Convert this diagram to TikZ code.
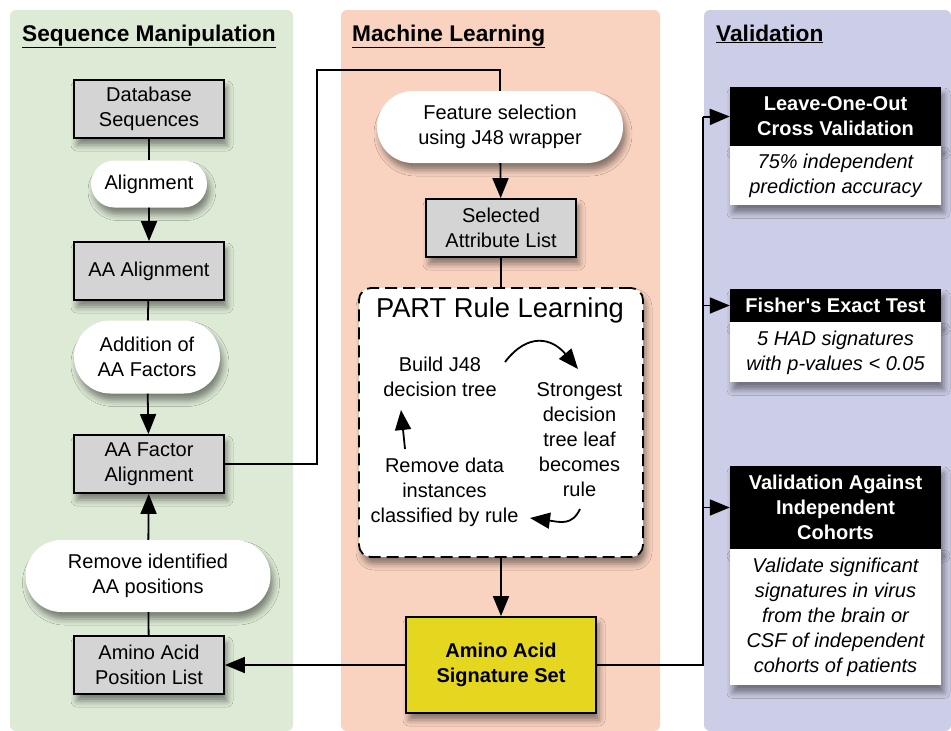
\documentclass[tikz,border=0pt]{standalone}
\usepackage{fontspec}
\setmainfont{Liberation Sans}
\usepackage{xcolor}
\usepackage{tikz}
\usetikzlibrary{arrows.meta, positioning, calc, shapes.misc, shadows.blur}

\definecolor{seqgreen}{RGB}{221,234,213}
\definecolor{mlsalmon}{RGB}{249,210,192}
\definecolor{vallavender}{RGB}{204,205,230}
\definecolor{boxgray}{RGB}{212,212,212}
\definecolor{sigyellow}{RGB}{229,215,32}

\newcommand{\bigtext}{\fontsize{20}{25}\selectfont}

\tikzstyle{arrow} = [line width=1.8pt, -{Triangle[length=20pt,width=16pt]}]
\tikzstyle{link} = [line width=1.8pt]
\tikzstyle{softshadow} = [blur shadow={shadow xshift=3pt, shadow yshift=-7pt, shadow blur radius=6pt, shadow opacity=45}]
\tikzstyle{databox} = [draw, line width=1.8pt, fill=boxgray, minimum width=150pt, minimum height=58pt, inner sep=0pt, align=center, font=\bigtext, softshadow]
\tikzstyle{pill} = [rounded rectangle, fill=white, inner sep=0pt, align=center, font=\bigtext, softshadow]
\tikzstyle{header} = [fill=black, text=white, minimum width=211pt, inner sep=0pt, align=center, font=\bigtext\bfseries, softshadow]
\tikzstyle{result} = [fill=white, minimum width=211pt, inner sep=0pt, align=center, font=\bigtext\itshape, softshadow]
\tikzstyle{heading} = [anchor=base west, inner sep=0pt, font=\fontsize{22.7}{27}\selectfont\bfseries]
\tikzstyle{steptext} = [align=center, inner sep=0pt, font=\bigtext]

\begin{document}
\begin{tikzpicture}[x=1pt, y=-1pt]
    \useasboundingbox (0,0) rectangle (951,731);

    % Column backgrounds
    \fill[seqgreen, rounded corners=6pt] (10,731) -- (10,10) -- (293,10) -- (293,731) -- cycle;
    \fill[mlsalmon, rounded corners=6pt] (341,731) -- (341,10) -- (660,10) -- (660,731) -- cycle;
    \fill[vallavender, rounded corners=6pt] (704,731) -- (704,10) -- (951,10) -- (951,731) -- cycle;
    \node[heading] (seqtitle) at (22,41) {\underline{Sequence Manipulation}};
    \node[heading] (mltitle) at (352,41) {\underline{Machine Learning}};
    \node[heading] (valtitle) at (716,41) {\underline{Validation}};

    % Sequence manipulation
    \node[databox] (dbseq) at (149,109) {Database\\Sequences};
    \node[pill, minimum width=116pt, minimum height=47pt] (align) at (149,184) {Alignment};
    \node[databox] (aaalign) at (149,271) {AA Alignment};
    \node[pill, minimum width=146pt, minimum height=73pt] (addfactors) at (147,357) {Addition of\\AA Factors};
    \node[databox] (factoralign) at (149,464) {AA Factor\\Alignment};
    \node[pill, minimum width=245pt, minimum height=72pt] (removepos) at (148,576) {Remove identified\\AA positions};
    \node[databox] (poslist) at (149,665) {Amino Acid\\Position List};

    \draw[link] (dbseq) -- (align);
    \draw[arrow] (align) -- (aaalign);
    \draw[link] (aaalign) -- (addfactors);
    \draw[arrow] (addfactors) -- (factoralign);
    \draw[link] (poslist) -- (removepos);
    \draw[arrow] (removepos) -- (factoralign);

    % Machine learning
    \node[pill, minimum width=246pt, minimum height=72pt] (featsel) at (500,127) {Feature selection\\using J48 wrapper};
    \node[databox] (attrlist) at (501,228) {Selected\\Attribute List};
    \node[draw, line width=1.8pt, dash pattern=on 12pt off 6pt, rounded corners=12pt, fill=white,
          minimum width=284pt, minimum height=269pt, softshadow] (part) at (501,422.5) {};
    \node[inner sep=0pt, font=\fontsize{27.3}{32}\selectfont] (parttitle) at (500,310) {PART Rule Learning};
    \node[steptext] (buildtree) at (440,377) {Build J48\\decision tree};
    \node[steptext] (strongleaf) at (579.5,440) {Strongest\\decision\\tree leaf\\becomes\\rule};
    \node[steptext] (removedata) at (444.5,492) {Remove data\\instances\\classified by rule};
    \node[draw, line width=1.8pt, fill=sigyellow, minimum width=190pt, minimum height=96pt,
          align=center, font=\bigtext\bfseries, softshadow] (sigset) at (501,665) {Amino Acid\\Signature Set};

    % cycle inside PART box
    \coordinate (c1) at (505,362);
    \coordinate (c2) at (578,369);
    \coordinate (c3) at (580,509);
    \coordinate (c4) at (530,518);
    \coordinate (c5) at (405,449);
    \coordinate (c6) at (401,410);
    \draw[arrow] (c1) .. controls (528,332) and (552,338) .. (c2);
    \draw[arrow] (c3) .. controls (572,526) and (560,522) .. (c4);
    \draw[arrow] (c5) -- (c6);

    \coordinate (bend) at (317,70);
    \draw[link] (factoralign.east) -| (bend) -| (featsel.north);
    \draw[arrow] (featsel) -- (attrlist);
    \draw[link] (attrlist) -- (part);
    \draw[arrow] (part) -- (sigset);
    \draw[arrow] (sigset) -- (poslist);

    % Validation
    \node[header, minimum height=59pt] (loo) at (835.5,116.5) {Leave-One-Out\\Cross Validation};
    \node[result, minimum height=59pt, below=0pt of loo] (looresult) {75\% independent\\prediction accuracy};
    \node[header, minimum height=33pt] (fisher) at (835.5,305.5) {Fisher\textquotesingle s Exact Test};
    \node[result, minimum height=60pt, below=0pt of fisher] (fisherresult) {5 HAD signatures\\with p-values < 0.05};
    \node[header, minimum height=83pt] (cohorts) at (835.5,507.5) {Validation Against\\Independent\\Cohorts};
    \node[result, minimum height=136pt, below=0pt of cohorts] (cohortsresult) {Validate significant\\signatures in virus\\from the brain or\\CSF of independent\\cohorts of patients};

    \coordinate (trunk) at (703,117);
    \draw[link] (sigset.east) -| (trunk);
    \draw[arrow] (trunk) -- (loo.west);
    \draw[arrow] (trunk |- fisher.west) -- (fisher.west);
    \draw[arrow] (trunk |- cohorts.west) -- (cohorts.west);
\end{tikzpicture}
\end{document}
